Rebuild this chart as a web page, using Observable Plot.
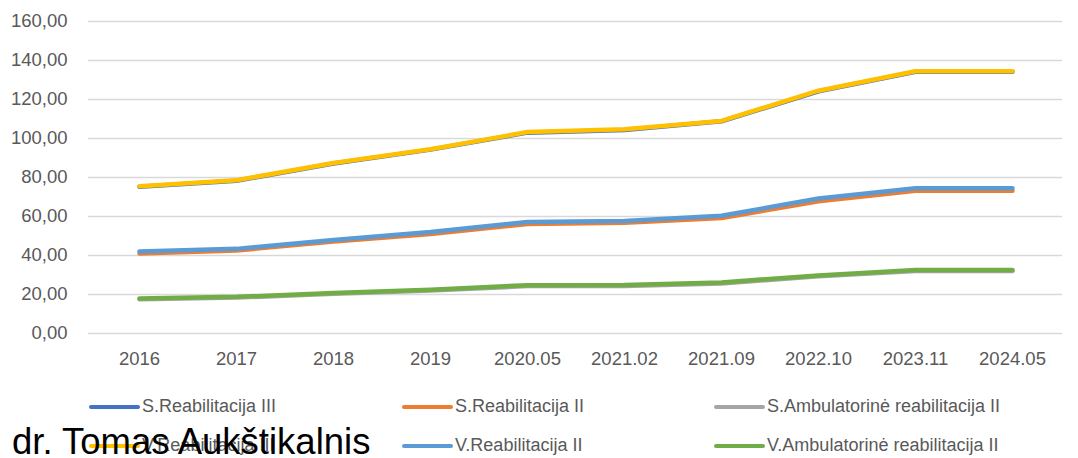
<!DOCTYPE html>
<html>
<head>
<meta charset="utf-8">
<script src="https://cdn.jsdelivr.net/npm/d3@7"></script>
<script src="https://cdn.jsdelivr.net/npm/@observablehq/plot@0.6"></script>
<style>
  html, body { margin: 0; padding: 0; background: #fff; }
  #wrap { position: relative; width: 1078px; height: 458px; overflow: hidden; font-family: "Liberation Sans", Arial, sans-serif; }
  #legend { position: absolute; left: 0; top: 0; width: 1078px; height: 458px; pointer-events: none; }
  .item { position: absolute; display: flex; align-items: center; font-size: 18px; color: #595959; white-space: nowrap; }
  .sw { display: inline-block; width: 51px; height: 4px; border-radius: 2px; margin-right: 2px; }
  #mark { position: absolute; left: 12px; top: 424px; font-size: 36.5px; color: #000; white-space: nowrap; line-height: 1; }
</style>
</head>
<body>
<div id="wrap"></div>
<script>
const categories = ["2016","2017","2018","2019","2020.05","2021.02","2021.09","2022.10","2023.11","2024.05"];
const seriesNames = ["S.Reabilitacija III","S.Reabilitacija II","S.Ambulatorinė reabilitacija II","V.Reabilitacija III","V.Reabilitacija II","V.Ambulatorinė reabilitacija II"];
const seriesColors = ["#4472C4","#ED7D31","#A5A5A5","#FFC000","#5B9BD5","#70AD47"];
const sReab3 = [75.2, 78.3, 87.2, 94.3, 103.0, 104.4, 108.8, 124.2, 134.2, 134.2];
const sReab2 = [41.0, 42.6, 47.2, 51.0, 56.2, 56.8, 59.2, 67.8, 73.2, 73.2];
const sAmb2  = [17.6, 18.4, 20.4, 22.0, 24.3, 24.4, 25.7, 29.3, 32.0, 32.0];
const vReab3 = [75.5, 78.6, 87.4, 94.5, 103.3, 104.7, 109.0, 124.5, 134.5, 134.5];
const vReab2 = [42.0, 43.4, 48.0, 52.0, 57.2, 57.7, 60.4, 69.2, 74.5, 74.5];
const vAmb2  = [18.0, 18.8, 20.8, 22.4, 24.8, 24.9, 26.2, 29.8, 32.6, 32.6];
const yTicks = [0, 20, 40, 60, 80, 100, 120, 140, 160];

const seriesValues = [sReab3, sReab2, sAmb2, vReab3, vReab2, vAmb2];
const rows = [];
seriesValues.forEach((vals, s) => vals.forEach((v, i) => rows.push({series: seriesNames[s], cat: categories[i], value: v})));

const fmt = d => d3.format(".2f")(d).replace(".", ",");

const chart = Plot.plot({
  width: 1078,
  height: 380,
  marginLeft: 88,
  marginRight: 16,
  marginTop: 21,
  marginBottom: 47,
  style: {fontFamily: "'Liberation Sans', Arial, sans-serif", fontSize: "18.5px", color: "#595959", background: "#fff", overflow: "visible"},
  x: {type: "point", domain: categories, padding: 0.5, label: null},
  y: {domain: [0, 160], ticks: yTicks, label: null},
  color: {domain: seriesNames, range: seriesColors},
  marks: [
    Plot.ruleY(yTicks, {stroke: "#d9d9d9", strokeWidth: 1.3}),
    Plot.axisY(yTicks, {tickSize: 0, tickPadding: 21, tickFormat: fmt, fill: "#595959", label: null}),
    Plot.axisX(categories, {tickSize: 0, tickPadding: 18, fill: "#595959", label: null}),
    Plot.line(rows, {x: "cat", y: "value", z: "series", stroke: "series", strokeWidth: 4.5, strokeLinecap: "round", strokeLinejoin: "round"})
  ]
});

const wrap = document.getElementById("wrap");
wrap.appendChild(chart);

const legend = document.createElement("div");
legend.id = "legend";
const pos = [[89,396],[402,396],[714,396],[89,435],[402,435],[714,435]];
seriesNames.forEach((name, i) => {
  const it = document.createElement("div");
  it.className = "item";
  it.style.left = pos[i][0] + "px";
  it.style.top = pos[i][1] + "px";
  const sw = document.createElement("span");
  sw.className = "sw";
  sw.style.background = seriesColors[i];
  const tx = document.createElement("span");
  tx.textContent = name;
  it.appendChild(sw);
  it.appendChild(tx);
  legend.appendChild(it);
});
wrap.appendChild(legend);

const mark = document.createElement("div");
mark.id = "mark";
mark.textContent = "dr. Tomas Aukštikalnis";
wrap.appendChild(mark);
</script>
</body>
</html>
